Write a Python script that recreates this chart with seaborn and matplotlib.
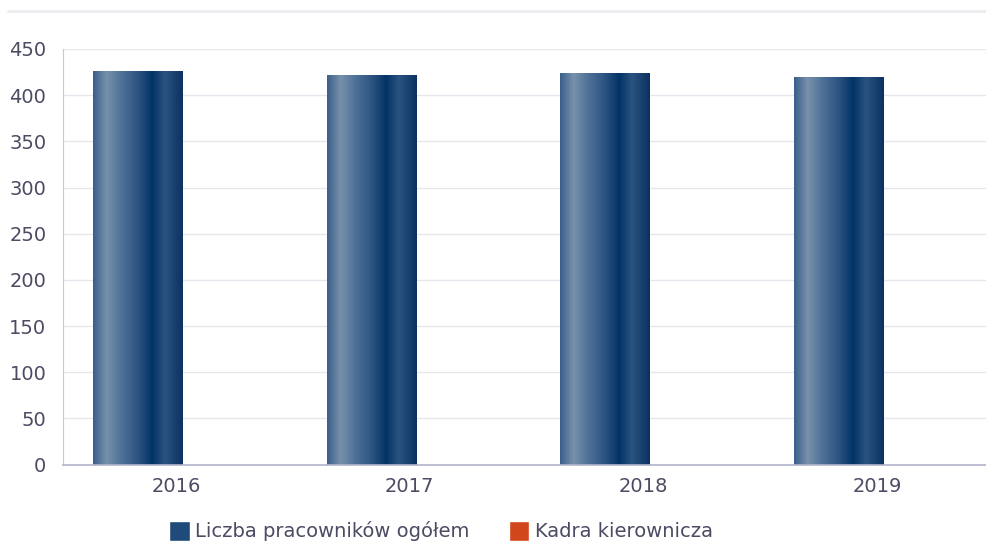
import numpy as np
import pandas as pd
import matplotlib.pyplot as plt
import matplotlib.transforms as mtransforms
from matplotlib.colors import LinearSegmentedColormap
from matplotlib.lines import Line2D
from matplotlib.patches import Patch
import seaborn as sns

years = ['2016', '2017', '2018', '2019']
ogolem = [426, 422, 424, 420]
kadra = [0, 0, 0, 0]
series = ['Liczba pracowników ogółem', 'Kadra kierownicza']

df = pd.DataFrame({
    'rok': years * 2,
    'wartosc': ogolem + kadra,
    'seria': [series[0]] * 4 + [series[1]] * 4,
})

sns.set_style('white')
plt.rcParams['font.family'] = ['DejaVu Sans']
text_c = '#4b4b63'

fig = plt.figure(figsize=(9.86, 5.44), dpi=100)
ax = fig.add_axes([63 / 986, 1 - 464.5 / 544, 923 / 986, 415.5 / 544])

sns.barplot(data=df, x='rok', y='wartosc', hue='seria', palette=['#1f4a7a', '#d2461b'],
            width=0.762, linewidth=0, legend=False, ax=ax)

# poziomy gradient na słupkach
blue_cm = LinearSegmentedColormap.from_list('b', [
    (0.0, '#3a5f8a'), (0.15, '#7891ab'), (0.32, '#4d7097'), (0.5, '#2d5381'),
    (0.66, '#023366'), (0.8, '#2b5380'), (1.0, '#0b3162')])
orange_cm = LinearSegmentedColormap.from_list('o', [
    (0.0, '#e07a4f'), (0.2, '#f09a70'), (0.5, '#d9531f'), (0.7, '#c43a0c'),
    (0.85, '#d9531f'), (1.0, '#b8360a')])
grad = np.linspace(0, 1, 256).reshape(1, -1)
for cont, cm in zip(ax.containers, [blue_cm, orange_cm]):
    for p in cont.patches:
        h = p.get_height()
        if h <= 0:
            continue
        x0 = p.get_x()
        im = ax.imshow(grad, cmap=cm, aspect='auto', extent=(x0, x0 + p.get_width(), 0, h),
                       zorder=p.get_zorder() + 0.1, interpolation='bicubic')
        im.set_clip_path(p)

ax.set_xlim(-0.509, 3.441)
ax.set_ylim(0, 450)
ax.set_yticks(range(0, 451, 50))
ax.grid(True, axis='y', color='#e6e6ee', linewidth=1)
ax.set_axisbelow(True)
ax.set_xlabel('')
ax.set_ylabel('')
for s in ['top', 'right']:
    ax.spines[s].set_visible(False)
ax.spines['left'].set_color('#c8c8dc')
ax.spines['bottom'].set_color('#b4b4cc')
ax.spines['bottom'].set_linewidth(1.2)
ax.tick_params(axis='both', length=0, labelsize=14, labelcolor=text_c)
ax.tick_params(axis='y', pad=12)
ax.tick_params(axis='x', pad=9)
off = mtransforms.ScaledTranslation(-6 / 100, 0, fig.dpi_scale_trans)
for lbl in ax.get_xticklabels():
    lbl.set_transform(lbl.get_transform() + off)

fig.add_artist(Line2D([8 / 986, 1], [1 - 10.5 / 544] * 2, color='#ebebf0', linewidth=2))

handles = [Patch(facecolor='#1f4a7a'), Patch(facecolor='#d2461b')]
fig.legend(handles, series, loc='center', bbox_to_anchor=(441 / 986, 1 - 531 / 544), ncol=2,
           frameon=False, handlelength=1.05, handleheight=1.2, handletextpad=0.3,
           columnspacing=2.0, fontsize=14, labelcolor=text_c)

fig.savefig('out.png', dpi=100)
